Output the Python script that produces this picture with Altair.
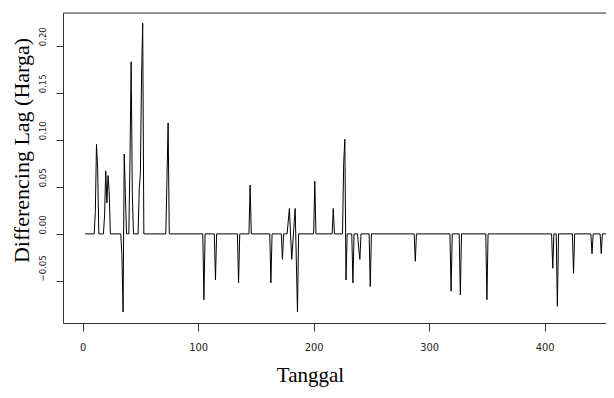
import altair as alt
import pandas as pd

# Points where the series changes (baseline is 0 between them)
days = [2, 10, 11, 12, 13, 14,
        18, 19, 20, 21, 22, 23, 24,
        33, 34, 35, 36, 37, 38,
        40, 41, 42, 43, 44,
        48, 49, 50, 51, 52, 53,
        72, 73, 74, 75,
        104, 105, 106,
        114, 115, 116,
        134, 135, 136,
        144, 145, 146,
        162, 163, 164,
        172, 173, 174,
        177, 179, 181, 184, 186, 187,
        200, 201, 202,
        216, 217, 218,
        225, 226, 227, 228, 229,
        233, 234, 235,
        238, 239, 240, 241,
        248, 249, 250,
        287, 288, 289,
        318, 319, 320,
        326, 327, 328,
        349, 350, 351,
        406, 407, 408, 410, 411, 412,
        424, 425, 426,
        440, 441, 442,
        448, 449, 450,
        458, 459, 460]
values = [0, 0, 0.024, 0.095, 0.07, 0,
          0, 0.02, 0.067, 0.033, 0.062, 0.045, 0,
          0, -0.022, -0.083, 0.085, 0.043, 0,
          0, 0.08, 0.183, 0.043, 0,
          0, 0.048, 0.064, 0.167, 0.224, 0,
          0, 0.058, 0.118, 0,
          0, -0.07, 0,
          0, -0.049, 0,
          0, -0.052, 0,
          0, 0.052, 0,
          0, -0.052, 0,
          0, -0.027, 0,
          0, 0.027, -0.027, 0.027, -0.083, 0,
          0, 0.056, 0,
          0, 0.027, 0,
          0, 0.075, 0.1007, -0.049, 0,
          0, -0.052, 0,
          0, -0.015, -0.027, 0,
          0, -0.056, 0,
          0, -0.029, 0,
          0, -0.061, 0,
          0, -0.065, 0,
          0, -0.07, 0,
          0, -0.0365, 0, 0, -0.077, 0,
          0, -0.042, 0,
          0, -0.021, 0,
          0, -0.021, 0,
          0, -0.046, -0.03]

x_ticks = [0, 100, 200, 300, 400]
y_ticks = [-0.05, 0.0, 0.05, 0.10, 0.15, 0.20]

df = pd.DataFrame({"Tanggal": days, "Diff": values})

W, H = 543, 310
label_font = "Liberation Sans Narrow, DejaVu Sans Condensed, Liberation Sans"

line = alt.Chart(df).mark_line(color="black", strokeWidth=1, clip=True).encode(
    x=alt.X("Tanggal:Q",
            scale=alt.Scale(domain=[-17, 453.1], nice=False, zero=False),
            axis=alt.Axis(values=x_ticks, title="Tanggal", grid=False,
                          tickSize=8, tickColor="#333", domainColor="#333",
                          labelFont=label_font, labelFontSize=11, labelColor="#222",
                          labelPadding=10, labelFlush=False,
                          titleFont="Liberation Serif", titleFontSize=21,
                          titleFontWeight="normal", titleColor="black",
                          titleX=247, titleY=58, titleBaseline="alphabetic",
                          titleAlign="center", titleAnchor="middle")),
    y=alt.Y("Diff:Q",
            scale=alt.Scale(domain=[-0.0947, 0.2348], nice=False, zero=False),
            axis=alt.Axis(values=y_ticks, format=".2f", title="Differencing Lag (Harga)",
                          grid=False, tickSize=7, tickColor="#333", domainColor="#333",
                          labelFont=label_font, labelFontSize=9.5, labelColor="#222",
                          labelAngle=270, labelAlign="left", labelBaseline="alphabetic",
                          labelPadding=11, labelFlush=False, labelOverlap=False,
                          titleFont="Liberation Serif", titleFontSize=22,
                          titleFontWeight="normal", titleColor="black",
                          titleAngle=270, titleX=-42, titleY=137,
                          titleBaseline="middle", titleAlign="center")),
)

top_border = alt.Chart(pd.DataFrame({"k": [0]})).mark_rule(color="#333", strokeWidth=1).encode(
    x=alt.value(0), x2=alt.value(W), y=alt.value(0)
)

chart = alt.layer(line, top_border).properties(
    width=W, height=H,
    autosize=alt.AutoSizeParams(type="none"),
    padding={"left": 55, "top": 5, "right": 0, "bottom": 67},
).configure_view(stroke=None).configure(background="white")

chart.save("out.html", embed_options={"renderer": "svg", "actions": False})
